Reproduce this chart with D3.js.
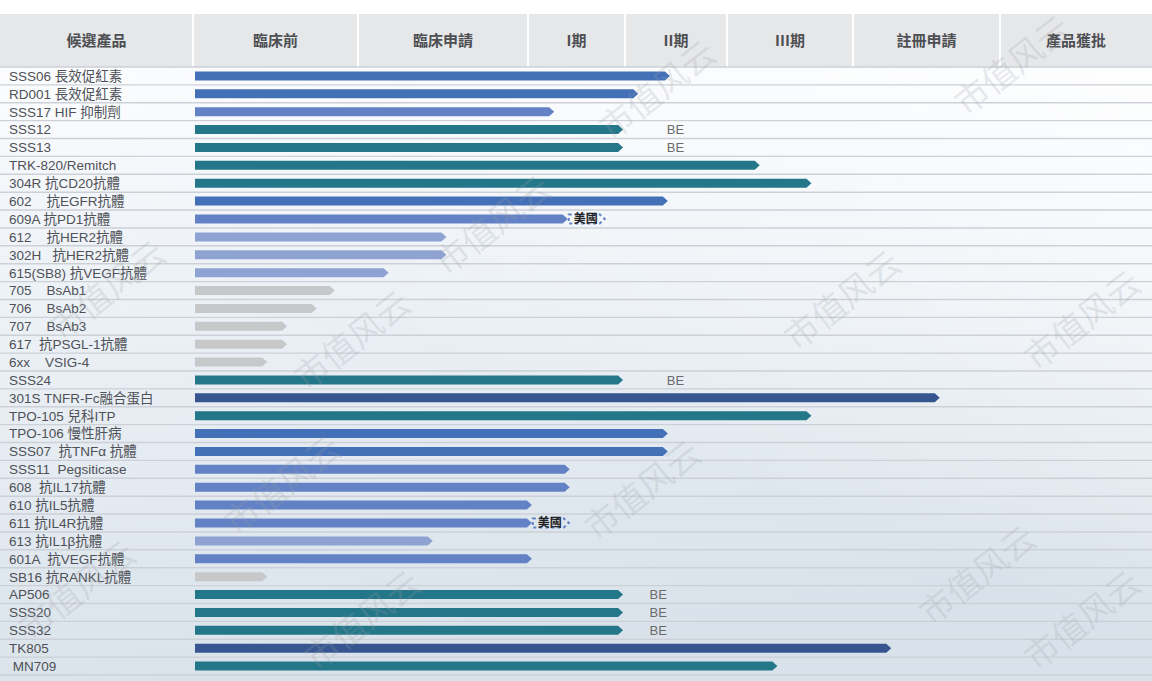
<!DOCTYPE html>
<meta charset="utf-8">
<title>候選產品研發進度</title>
<style>
  body { margin: 0; background: #fff; }
  svg { display: block; font-family: "Liberation Sans", Arial, "Noto Sans CJK TC", sans-serif; }
</style>
<svg width="1152" height="681"></svg>
<script src="https://d3js.org/d3.v7.min.js"></script>
<script>

var svg = d3.select("svg"),
    width = +svg.attr("width"),
    height = +svg.attr("height");

// column headers: product + development stages
var columns = ["候選產品", "臨床前", "臨床申請", "I期", "II期", "III期", "註冊申請", "產品獲批"];

// products, top to bottom
var products = [
  "SSS06 長效促紅素", "RD001 長效促紅素", "SSS17 HIF 抑制劑", "SSS12", "SSS13",
  "TRK-820/Remitch", "304R 抗CD20抗體", "602    抗EGFR抗體", "609A 抗PD1抗體",
  "612    抗HER2抗體", "302H   抗HER2抗體", "615(SB8) 抗VEGF抗體", "705    BsAb1",
  "706    BsAb2", "707    BsAb3", "617  抗PSGL-1抗體", "6xx    VSIG-4", "SSS24",
  "301S TNFR-Fc融合蛋白", "TPO-105 兒科ITP", "TPO-106 慢性肝病", "SSS07  抗TNFα 抗體",
  "SSS11  Pegsiticase", "608  抗IL17抗體", "610 抗IL5抗體", "611 抗IL4R抗體",
  "613 抗IL1β抗體", "601A  抗VEGF抗體", "SB16 抗RANKL抗體", "AP506", "SSS20",
  "SSS32", "TK805", " MN709"
];

// progress, in stage units (0 = start of 臨床前, 1 = start of 臨床申請, ...)
var progress = [
  3.44, 3.13, 2.27, 2.98, 2.98,
  4.26, 4.67, 3.42, 2.41,
  1.52, 1.52, 1.18, 0.86,
  0.75, 0.57, 0.57, 0.45, 2.98,
  5.59, 4.67, 3.42, 3.42,
  2.43, 2.43, 2.04, 2.04,
  1.44, 2.04, 0.45, 2.98, 2.98,
  2.98, 5.26, 4.40
];

// product group (used for bar colour)
var groups = [
  "a", "a", "b", "t", "t",
  "t", "t", "a", "b",
  "c", "c", "c", "g",
  "g", "g", "g", "g", "t",
  "n", "t", "a", "a",
  "b", "b", "b", "b",
  "c", "b", "g", "t", "t",
  "t", "n", "t"
];

// side notes and where they sit (stage units)
var notes = [
  "", "", "", "BE", "BE",
  "", "", "", "美國",
  "", "", "", "",
  "", "", "", "", "BE",
  "", "", "", "",
  "", "", "", "美國",
  "", "", "", "BE", "BE",
  "BE", "", ""
];
var noteAt = [
  0, 0, 0, 3.41, 3.41,
  0, 0, 0, 2.42,
  0, 0, 0, 0,
  0, 0, 0, 0, 3.41,
  0, 0, 0, 0,
  0, 0, 0, 2.05,
  0, 0, 0, 3.24, 3.24,
  3.24, 0, 0
];

var rows = products.map(function(p, i) {
  return { i: i, name: p, value: progress[i], group: groups[i], note: notes[i], noteAt: noteAt[i] };
});

// stage boundaries on screen (columns are not equal width)
var x = d3.scaleLinear()
    .domain([0, 1, 2, 3, 4, 5, 6, 7])
    .range([193, 358, 528, 625, 727, 853, 1000, 1152]);

var headTop = 14, headBottom = 67;

var y = d3.scaleBand()
    .domain(d3.range(products.length))
    .range([headBottom, 675]);

var color = d3.scaleOrdinal()
    .domain(["a", "b", "c", "g", "t", "n"])
    .range(["#4470b8", "#6282c5", "#8ea3d1", "#c7c8ca", "#247789", "#37568f"]);

// background
var defs = svg.append("defs");
var bg = defs.append("linearGradient").attr("id", "bg")
    .attr("x1", 0).attr("y1", 0).attr("x2", 0.25).attr("y2", 1);
bg.append("stop").attr("offset", "0").attr("stop-color", "#fbfcfe");
bg.append("stop").attr("offset", "0.35").attr("stop-color", "#edf2f7");
bg.append("stop").attr("offset", "1").attr("stop-color", "#d9e2ea");
var shine = defs.append("linearGradient").attr("id", "shine")
    .attr("x1", 1).attr("y1", 0).attr("x2", 0.55).attr("y2", 0.6);
shine.append("stop").attr("offset", "0").attr("stop-color", "#fff").attr("stop-opacity", 0.9);
shine.append("stop").attr("offset", "1").attr("stop-color", "#fff").attr("stop-opacity", 0);

svg.append("rect").attr("width", width).attr("height", height).attr("fill", "#fff");
svg.append("rect").attr("y", headBottom).attr("width", width).attr("height", height - headBottom).attr("fill", "url(#bg)");
svg.append("rect").attr("y", headBottom).attr("width", width).attr("height", height - headBottom).attr("fill", "url(#shine)");

// header
svg.append("rect")
    .attr("y", headTop).attr("width", width).attr("height", headBottom - headTop)
    .attr("fill", "#e6e7e9");

var colEdges = [0].concat(x.range());
svg.append("g").selectAll("line")
  .data(colEdges.slice(1, -1))
  .enter().append("line")
    .attr("x1", function(d) { return d; }).attr("x2", function(d) { return d; })
    .attr("y1", headTop).attr("y2", headBottom)
    .attr("stroke", "#fff").attr("stroke-width", 2);

svg.append("g")
    .attr("font-family", "Noto Sans CJK TC")
    .attr("font-weight", "bold")
    .attr("font-size", 15)
    .attr("fill", "#4d4f53")
  .selectAll("text")
  .data(columns)
  .enter().append("text")
    .attr("x", function(d, i) { return (colEdges[i] + colEdges[i + 1]) / 2; })
    .attr("y", (headTop + headBottom) / 2)
    .attr("dy", "0.35em")
    .attr("text-anchor", "middle")
    .text(function(d) { return d; });

// row separators
svg.append("g").selectAll("line")
  .data(d3.range(products.length + 1))
  .enter().append("line")
    .attr("x1", 0).attr("x2", width)
    .attr("y1", function(i) { return i < products.length ? y(i) : y(i - 1) + y.bandwidth(); })
    .attr("y2", function(i) { return i < products.length ? y(i) : y(i - 1) + y.bandwidth(); })
    .attr("stroke", "#cdd1d7").attr("stroke-width", 1.4);

// product labels
svg.append("g")
    .attr("font-size", 13.5)
    .attr("fill", "#4f5157")
  .selectAll("text")
  .data(rows)
  .enter().append("text")
    .attr("x", 9)
    .attr("y", function(d) { return y(d.i) + y.bandwidth() / 2; })
    .attr("dy", "0.36em")
    .style("white-space", "pre")
    .text(function(d) { return d.name; });

// bars with arrow tips
var barH = 9, tip = 5;
function arrow(x0, x1, cy) {
  var h = barH / 2;
  return "M" + x0 + "," + (cy - h) + "H" + (x1 - tip) + "L" + x1 + "," + cy +
         "L" + (x1 - tip) + "," + (cy + h) + "H" + x0 + "Z";
}

svg.append("g").selectAll("path")
  .data(rows)
  .enter().append("path")
    .attr("d", function(d) { return arrow(x(0) + 2, x(d.value), y(d.i) + y.bandwidth() / 2); })
    .attr("fill", function(d) { return color(d.group); });

// BE notes
svg.append("g")
    .attr("font-size", 13)
    .attr("fill", "#6b6b6b")
  .selectAll("text")
  .data(rows.filter(function(d) { return d.note === "BE"; }))
  .enter().append("text")
    .attr("x", function(d) { return x(d.noteAt); })
    .attr("y", function(d) { return y(d.i) + y.bandwidth() / 2; })
    .attr("dy", "0.36em")
    .text(function(d) { return d.note; });

// 美國 tags: dashed arrow box after the bar
var tags = svg.append("g").selectAll("g")
  .data(rows.filter(function(d) { return d.note === "美國"; }))
  .enter().append("g");

tags.append("path")
    .attr("d", function(d) { return arrow(x(d.noteAt), x(d.noteAt) + 36, y(d.i) + y.bandwidth() / 2); })
    .attr("fill", "none")
    .attr("stroke", function(d) { return color(d.group); })
    .attr("stroke-width", 2)
    .attr("stroke-dasharray", "3,3");

tags.append("text")
    .attr("x", function(d) { return x(d.noteAt) + 17; })
    .attr("y", function(d) { return y(d.i) + y.bandwidth() / 2; })
    .attr("dy", "0.36em")
    .attr("text-anchor", "middle")
    .attr("font-family", "Noto Sans CJK TC")
    .attr("font-weight", "bold")
    .attr("font-size", 12)
    .attr("fill", "#222")
    .text("美國");

// watermark over everything, kept inside the frame
var marks = [[665, 100], [1020, 75], [500, 235], [850, 310], [1090, 330], [360, 350],
             [650, 500], [290, 495], [985, 585], [85, 600], [370, 630], [1090, 630], [115, 300]];
svg.append("g")
    .attr("font-family", "Noto Sans CJK SC")
    .attr("font-size", 34)
    .attr("fill", "#9aa0a8")
    .attr("fill-opacity", 0.22)
    .attr("pointer-events", "none")
  .selectAll("text")
  .data(marks)
  .enter().append("text")
    .attr("text-anchor", "middle")
    .attr("transform", function(d) { return "translate(" + d[0] + "," + d[1] + ") rotate(-38)"; })
    .text("市值风云");

</script>
